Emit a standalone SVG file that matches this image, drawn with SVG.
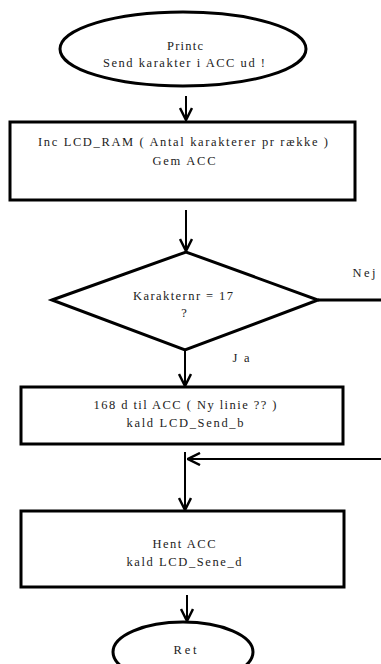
<svg xmlns="http://www.w3.org/2000/svg" width="381" height="664" viewBox="0 0 381 664">
<style>
.shape{fill:#fff;stroke:#000;stroke-width:3}
.line{fill:none;stroke:#000;stroke-width:2}
.thick{fill:none;stroke:#000;stroke-width:3}
text{font-family:"Liberation Serif","Times New Roman",serif;font-size:12.5px;fill:#222;text-anchor:middle}
</style>
<defs>
<marker id="arr" viewBox="0 0 14 14" refX="13" refY="7" markerWidth="14" markerHeight="14" orient="auto" markerUnits="userSpaceOnUse">
<path d="M1,1 L13,7 L1,13" fill="none" stroke="#000" stroke-width="2.5"/>
</marker>
</defs>
<rect width="381" height="664" fill="#fff"/>
<g id="connectors">
<line class="line" x1="186" y1="96" x2="186" y2="120" marker-end="url(#arr)"/>
<line class="line" x1="186" y1="210" x2="186" y2="251" marker-end="url(#arr)"/>
<line class="line" x1="185" y1="351" x2="185" y2="386" marker-end="url(#arr)"/>
<line class="line" x1="185" y1="452" x2="185" y2="510" marker-end="url(#arr)"/>
<line class="thick" x1="318" y1="300" x2="381" y2="300"/>
<line class="line" x1="381" y1="459" x2="188" y2="459" stroke-width="2.5" marker-end="url(#arr)"/>
<line class="line" x1="187" y1="595" x2="187" y2="621" marker-end="url(#arr)"/>
<text x="364" y="277" textLength="23" lengthAdjust="spacing">Nej</text>
<text x="241" y="362" textLength="17" lengthAdjust="spacing">Ja</text>
</g>
<g id="start">
<ellipse class="shape" cx="183" cy="49" rx="123" ry="37"/>
<text x="185" y="50" textLength="36" lengthAdjust="spacing">Printc</text>
<text x="184" y="67" textLength="162" lengthAdjust="spacing">Send karakter i ACC ud !</text>
</g>
<g id="inc">
<rect class="shape" x="10" y="122" width="345" height="78"/>
<text x="183" y="146" textLength="290" lengthAdjust="spacing">Inc LCD_RAM ( Antal karakterer pr række )</text>
<text x="184" y="165" textLength="63" lengthAdjust="spacing">Gem ACC</text>
</g>
<g id="decision">
<polygon class="shape" points="52,300 186,252 318,300 185,350"/>
<text x="183" y="300" textLength="100" lengthAdjust="spacing">Karakternr = 17</text>
<text x="184" y="317">?</text>
</g>
<g id="newline">
<rect class="shape" x="21" y="387" width="322" height="57"/>
<text x="185" y="409" textLength="183" lengthAdjust="spacing">168 d til ACC ( Ny linie ?? )</text>
<text x="185" y="427" textLength="117" lengthAdjust="spacing">kald LCD_Send_b</text>
</g>
<g id="hent">
<rect class="shape" x="21" y="511" width="323" height="76"/>
<text x="184" y="548" textLength="63" lengthAdjust="spacing">Hent ACC</text>
<text x="184" y="566" textLength="115" lengthAdjust="spacing">kald LCD_Sene_d</text>
</g>
<g id="ret">
<ellipse class="shape" cx="183" cy="652" rx="70" ry="30"/>
<text x="185" y="654" textLength="23" lengthAdjust="spacing">Ret</text>
</g>
</svg>
